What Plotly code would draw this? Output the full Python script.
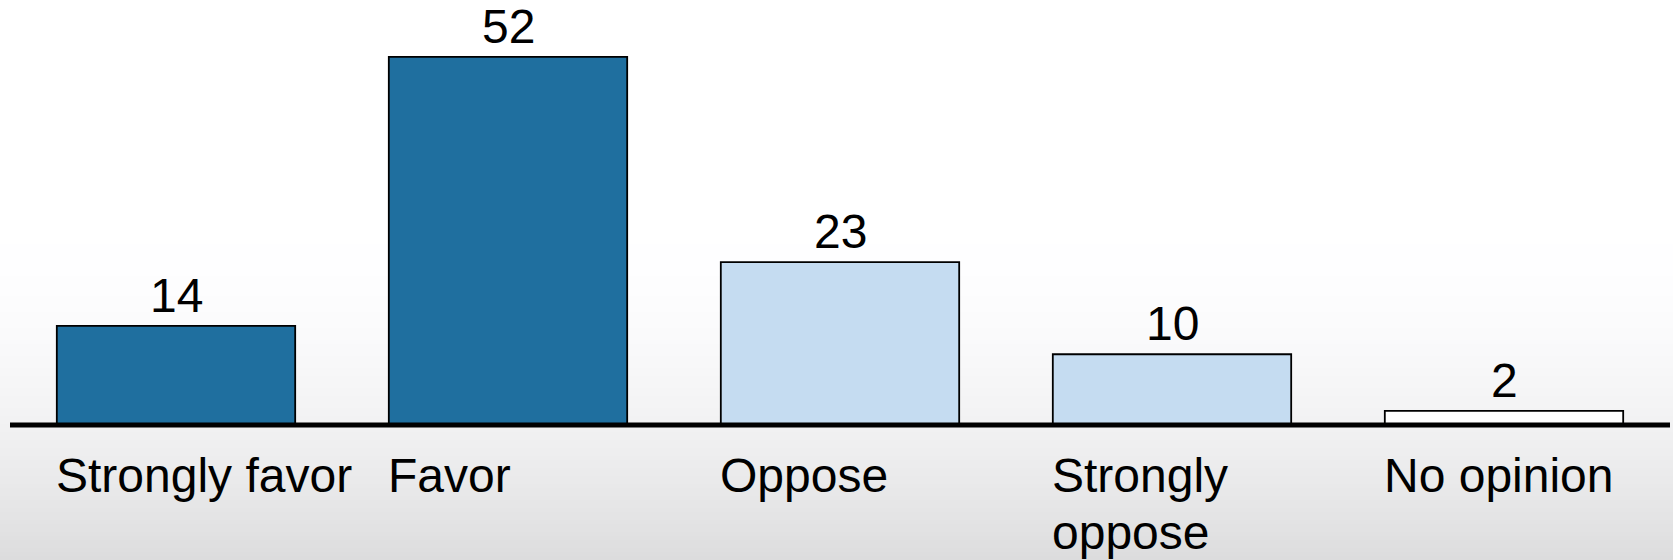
import plotly.graph_objects as go

# Survey responses (percent)
categories = ["Strongly favor", "Favor", "Oppose", "Strongly<br>oppose", "No opinion"]
values = [14, 52, 23, 10, 2]
bar_colors = ["#1f6f9f", "#1f6f9f", "#c5dcf1", "#c5dcf1", "#ffffff"]

BAR_WIDTH = 0.718
FONT = "Arial, 'Liberation Sans', sans-serif"
FONT_SIZE = 48
LINE_GAP = 57

W, H = 1673, 560
PLOT_BOTTOM = 425  # pixel row of the baseline
x_pos = list(range(len(categories)))

fig = go.Figure(
    go.Bar(
        x=x_pos,
        y=values,
        width=BAR_WIDTH,
        marker=dict(color=bar_colors, line=dict(color="#000000", width=1.8)),
        hoverinfo="skip",
    )
)

# Soft vertical background gradient: white on top, light grey towards the bottom
shapes = []
n_strips = 90
grad_start = 200
for k in range(n_strips):
    y0 = grad_start + (H - grad_start) * k / n_strips
    y1 = grad_start + (H - grad_start) * (k + 1) / n_strips
    t = ((y0 + y1) / 2 - grad_start) / (H - grad_start)
    v = round(255 - 35 * t ** 2)
    shapes.append(dict(
        type="rect", xref="paper", yref="paper", layer="below",
        x0=-0.01, x1=1.01,
        y0=1 - y1 / PLOT_BOTTOM, y1=1 - y0 / PLOT_BOTTOM,
        fillcolor=f"rgb({v},{v},{min(255, v + 1)})", line=dict(width=0),
    ))

# Heavy baseline (paper refs so the stroke is not clipped at the plot edge)
shapes.append(dict(
    type="line", xref="paper", yref="paper", x0=0, x1=1, y0=0, y1=0,
    line=dict(color="#000000", width=5), layer="above",
))

annotations = []
# Value labels above bars
for x, v in zip(x_pos, values):
    annotations.append(dict(
        x=x, y=v, xref="x", yref="y", text=str(v), showarrow=False,
        xanchor="center", yanchor="bottom", yshift=2,
        font=dict(family=FONT, size=FONT_SIZE, color="#000000"),
    ))

# Category labels, left aligned with each bar's left edge
for x, label in zip(x_pos, categories):
    for j, line in enumerate(label.split("<br>")):
        annotations.append(dict(
            x=x - BAR_WIDTH / 2, y=0, xref="x", yref="y", text=line,
            showarrow=False, xanchor="left", yanchor="top",
            yshift=-22 - j * LINE_GAP, xshift=-3,
            font=dict(family=FONT, size=FONT_SIZE, color="#000000"),
        ))

fig.update_layout(
    width=W, height=H,
    margin=dict(l=10, r=3, t=0, b=H - PLOT_BOTTOM),
    paper_bgcolor="#ffffff", plot_bgcolor="rgba(0,0,0,0)",
    showlegend=False,
    shapes=shapes,
    annotations=annotations,
    xaxis=dict(range=[-0.5, 4.5], showgrid=False, zeroline=False,
               showticklabels=False, showline=False, fixedrange=True),
    yaxis=dict(range=[0, 60.05], showgrid=False, zeroline=False,
               showticklabels=False, showline=False, fixedrange=True),
)

fig.write_html("out.html", config={"displayModeBar": False})
